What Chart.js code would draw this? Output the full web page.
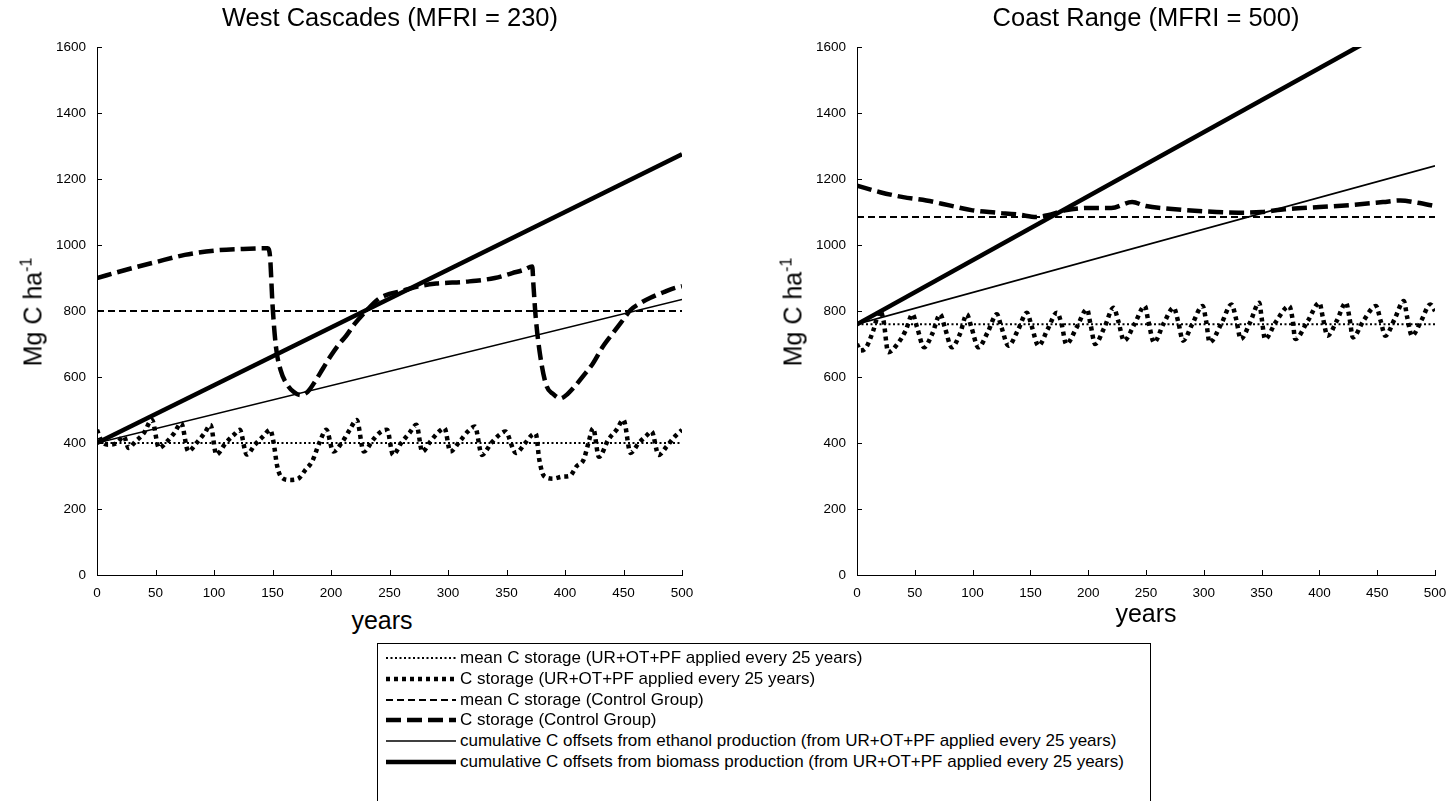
<!DOCTYPE html>
<html>
<head>
<meta charset="utf-8">
<script src="https://cdn.jsdelivr.net/npm/chart.js@4.4.1/dist/chart.umd.min.js"></script>
<style>
  html,body{margin:0;padding:0;background:#fff;}
  body{width:1455px;height:801px;overflow:hidden;position:relative;font-family:"Liberation Sans",Arial,sans-serif;color:#000;}
  canvas.chart{position:absolute;top:0;}
  .lbl{position:absolute;white-space:nowrap;transform:translate(-50%,-50%);line-height:1;}
  .title{font-size:25.5px;}
  .xt{font-size:25px;}
  .yt{font-size:25px;transform:translate(-50%,-50%) rotate(-90deg);}
  .yt sup{font-size:16px;vertical-align:0;position:relative;top:-10px;}
  #legend{position:absolute;left:377px;top:643px;width:774px;height:170px;border:1px solid #000;box-sizing:border-box;}
  .row{position:absolute;left:8px;height:20px;display:flex;align-items:center;font-size:17px;white-space:nowrap;}
  .row canvas{margin-right:4px;}
</style>
</head>
<body>
<canvas id="c1" class="chart" style="left:0px"></canvas>
<canvas id="c2" class="chart" style="left:760px"></canvas>

<div class="lbl title" style="left:390px;top:18px">West Cascades (MFRI = 230)</div>
<div class="lbl title" style="left:1146px;top:18px">Coast Range (MFRI = 500)</div>
<div class="lbl xt" style="left:382px;top:620px">years</div>
<div class="lbl xt" style="left:1146px;top:613px">years</div>
<div class="lbl yt" style="left:33px;top:312px">Mg C ha<sup>-1</sup></div>
<div class="lbl yt" style="left:793px;top:312px">Mg C ha<sup>-1</sup></div>

<div id="legend"></div>

<script>
// ---------- tick labels ----------
const xTicks = [0,50,100,150,200,250,300,350,400,450,500];
const yTicks = [0,200,400,600,800,1000,1200,1400,1600];

// ---------- legend labels ----------
const seriesNames = [
  "mean C storage (UR+OT+PF applied every 25 years)",
  "C storage (UR+OT+PF applied every 25 years)",
  "mean C storage (Control Group)",
  "C storage (Control Group)",
  "cumulative C offsets from ethanol production (from UR+OT+PF applied every 25 years)",
  "cumulative C offsets from biomass production (from UR+OT+PF applied every 25 years)"
];

// ---------- West Cascades ----------
const wcStorageYears = [0,4,10,17,23,27,33,40,47,53,60,66,72,78,85,92,97,102,110,117,122,128,135,142,148,151,154,158,165,172,178,184,190,196,202,210,216,222,228,236,243,248,253,260,267,273,278,285,291,297,302,310,317,323,329,337,344,349,358,366,372,375,378,382,390,398,404,410,416,420,424,429,437,444,450,456,463,469,474,480,487,494,500];
const wcStorage = [440,405,395,400,420,385,405,430,470,385,405,430,460,375,400,430,455,365,400,425,440,365,395,420,440,400,330,295,288,292,318,345,400,440,374,405,440,470,374,410,435,440,364,400,430,455,374,405,430,445,374,405,435,450,364,400,425,435,370,400,425,428,350,300,292,298,300,330,350,400,445,358,410,440,470,370,400,420,435,364,390,420,440];
const wcMeanStorage = 400;
const wcControlYears = [0,25,50,75,100,125,146,148,150,153,157,162,168,174,180,187,193,200,207,213,220,230,240,250,260,275,290,316,340,355,365,372,373,375,379,384,390,396,402,408,416,424,432,441,450,456,465,473,485,494,500];
const wcControl = [900,925,948,970,983,988,990,960,820,690,620,580,555,545,555,590,625,665,700,725,760,800,835,852,860,875,883,889,900,915,925,935,880,780,660,575,548,535,548,570,605,642,690,733,775,803,825,840,858,870,875];
const wcMeanControl = 800;
const wcOffsetYears = [0,500];
const wcEthanol = [400,835];
const wcBiomass = [400,1275];

// ---------- Coast Range ----------
const crStorageYears = [0,3,8,14,20,23,27,35,42,48,52,58,65,72,76,82,89,95,99,105,113,121,125,131,139,147,151,157,165,173,177,181,190,199,202,206,214,222,226,231,240,249,252,257,265,274,278,282,290,299,302,305,315,324,328,332,340,348,350,353,362,374,377,379,390,400,403,407,415,423,426,429,438,449,453,457,465,473,476,480,488,496,500];
const crStorage = [700,680,690,740,800,770,675,700,740,790,750,690,730,790,750,690,730,790,750,690,735,790,750,695,740,795,755,695,745,795,760,700,750,805,760,700,750,810,770,710,760,815,770,705,760,810,765,710,760,815,770,705,760,820,775,715,765,825,780,715,765,815,770,715,770,825,780,725,770,825,780,720,770,815,770,725,775,830,780,725,770,820,800];
const crMeanStorage = 760;
const crControlYears = [0,20,40,60,80,100,120,140,155,165,180,200,220,238,250,270,300,330,350,370,400,430,455,470,485,500];
const crControl = [1180,1160,1145,1135,1120,1105,1098,1092,1085,1090,1105,1112,1112,1130,1118,1110,1102,1098,1100,1108,1115,1122,1130,1135,1128,1118];
const crMeanControl = 1085;
const crOffsetYears = [0,500];
const crEthanol = [760,1240];
const crBiomass = [760,1730];

// ---------- styles (legend order) ----------
const styles = [
  {w:2,   dash:[2,2.5], cap:'butt'},
  {w:4.5, dash:[4,4],   cap:'butt'},
  {w:2,   dash:[7,4],   cap:'butt'},
  {w:4.5, dash:[15,6],  cap:'butt'},
  {w:1.6, dash:[],      cap:'butt'},
  {w:4.5, dash:[],      cap:'butt'}
];

function pts(xs, ys){ return xs.map((x,i)=>({x:x,y:ys[i]})); }
function flat(v){ return [{x:0,y:v},{x:500,y:v}]; }

function ds(idx, data, smooth){
  const s = styles[idx];
  return {
    label: seriesNames[idx], data: data,
    borderColor:'#000', backgroundColor:'#000',
    borderWidth:s.w, borderDash:s.dash, borderCapStyle:s.cap, borderJoinStyle:'miter',
    pointRadius:0, fill:false,
    cubicInterpolationMode: smooth ? 'monotone' : 'default',
    tension: 0
  };
}

const inwardTicks = {
  id:'inwardTicks',
  afterDraw(chart){
    const ctx = chart.ctx, a = chart.chartArea, xs = chart.scales.x, ys = chart.scales.y;
    ctx.save();
    ctx.strokeStyle = '#000'; ctx.lineWidth = 1; ctx.setLineDash([]);
    ctx.beginPath();
    xTicks.forEach(v=>{ const px = Math.round(xs.getPixelForValue(v))+0.5; ctx.moveTo(px,a.bottom); ctx.lineTo(px,a.bottom-5); });
    yTicks.forEach(v=>{ const py = Math.round(ys.getPixelForValue(v))+0.5; ctx.moveTo(a.left,py); ctx.lineTo(a.left+5,py); });
    ctx.stroke();
    ctx.restore();
  }
};

const tickFont = {family:'"Liberation Sans", Arial', size:13.5};

function makeChart(id, width, padRight, datasets){
  const cv = document.getElementById(id);
  cv.style.width = width+'px'; cv.style.height = '600px';
  cv.width = width; cv.height = 600;
  return new Chart(cv, {
    type:'line',
    data:{datasets:datasets},
    plugins:[inwardTicks],
    options:{
      responsive:false, animation:false, devicePixelRatio:1,
      layout:{padding:{left:0, top:47, right:padRight, bottom:0}},
      plugins:{legend:{display:false}, title:{display:false}, tooltip:{enabled:false}},
      scales:{
        x:{
          type:'linear', min:0, max:500,
          afterBuildTicks: s=>{ s.ticks = xTicks.map(v=>({value:v})); },
          afterFit: s=>{ s.height = 25; },
          grid:{display:false},
          border:{display:true, color:'#000', width:1},
          ticks:{color:'#000', font:tickFont, padding:2, maxRotation:0, autoSkip:false, callback:v=>String(v)}
        },
        y:{
          type:'linear', min:0, max:1600,
          afterBuildTicks: s=>{ s.ticks = yTicks.map(v=>({value:v})); },
          afterFit: s=>{ s.width = 97; },
          grid:{display:false},
          border:{display:true, color:'#000', width:1},
          ticks:{color:'#000', font:tickFont, padding:3, autoSkip:false, callback:v=>String(v)}
        }
      }
    }
  });
}

makeChart('c1', 720, 38, [
  ds(0, flat(wcMeanStorage)),
  ds(1, pts(wcStorageYears, wcStorage), true),
  ds(2, flat(wcMeanControl)),
  ds(3, pts(wcControlYears, wcControl), true),
  ds(4, pts(wcOffsetYears, wcEthanol)),
  ds(5, pts(wcOffsetYears, wcBiomass))
]);
makeChart('c2', 695, 20, [
  ds(0, flat(crMeanStorage)),
  ds(1, pts(crStorageYears, crStorage), true),
  ds(2, flat(crMeanControl)),
  ds(3, pts(crControlYears, crControl), true),
  ds(4, pts(crOffsetYears, crEthanol)),
  ds(5, pts(crOffsetYears, crBiomass))
]);

// ---------- legend ----------
const leg = document.getElementById('legend');
seriesNames.forEach((name,i)=>{
  const row = document.createElement('div');
  row.className = 'row';
  row.style.top = (4 + i*20.8) + 'px';
  const c = document.createElement('canvas');
  c.width = 70; c.height = 12;
  const g = c.getContext('2d');
  const s = styles[i];
  g.strokeStyle = '#000'; g.lineWidth = s.w; g.setLineDash(s.dash); g.lineCap = s.cap;
  g.beginPath(); g.moveTo(0,6); g.lineTo(70,6); g.stroke();
  const t = document.createElement('span');
  t.textContent = name;
  row.appendChild(c); row.appendChild(t);
  leg.appendChild(row);
});
</script>
</body>
</html>
